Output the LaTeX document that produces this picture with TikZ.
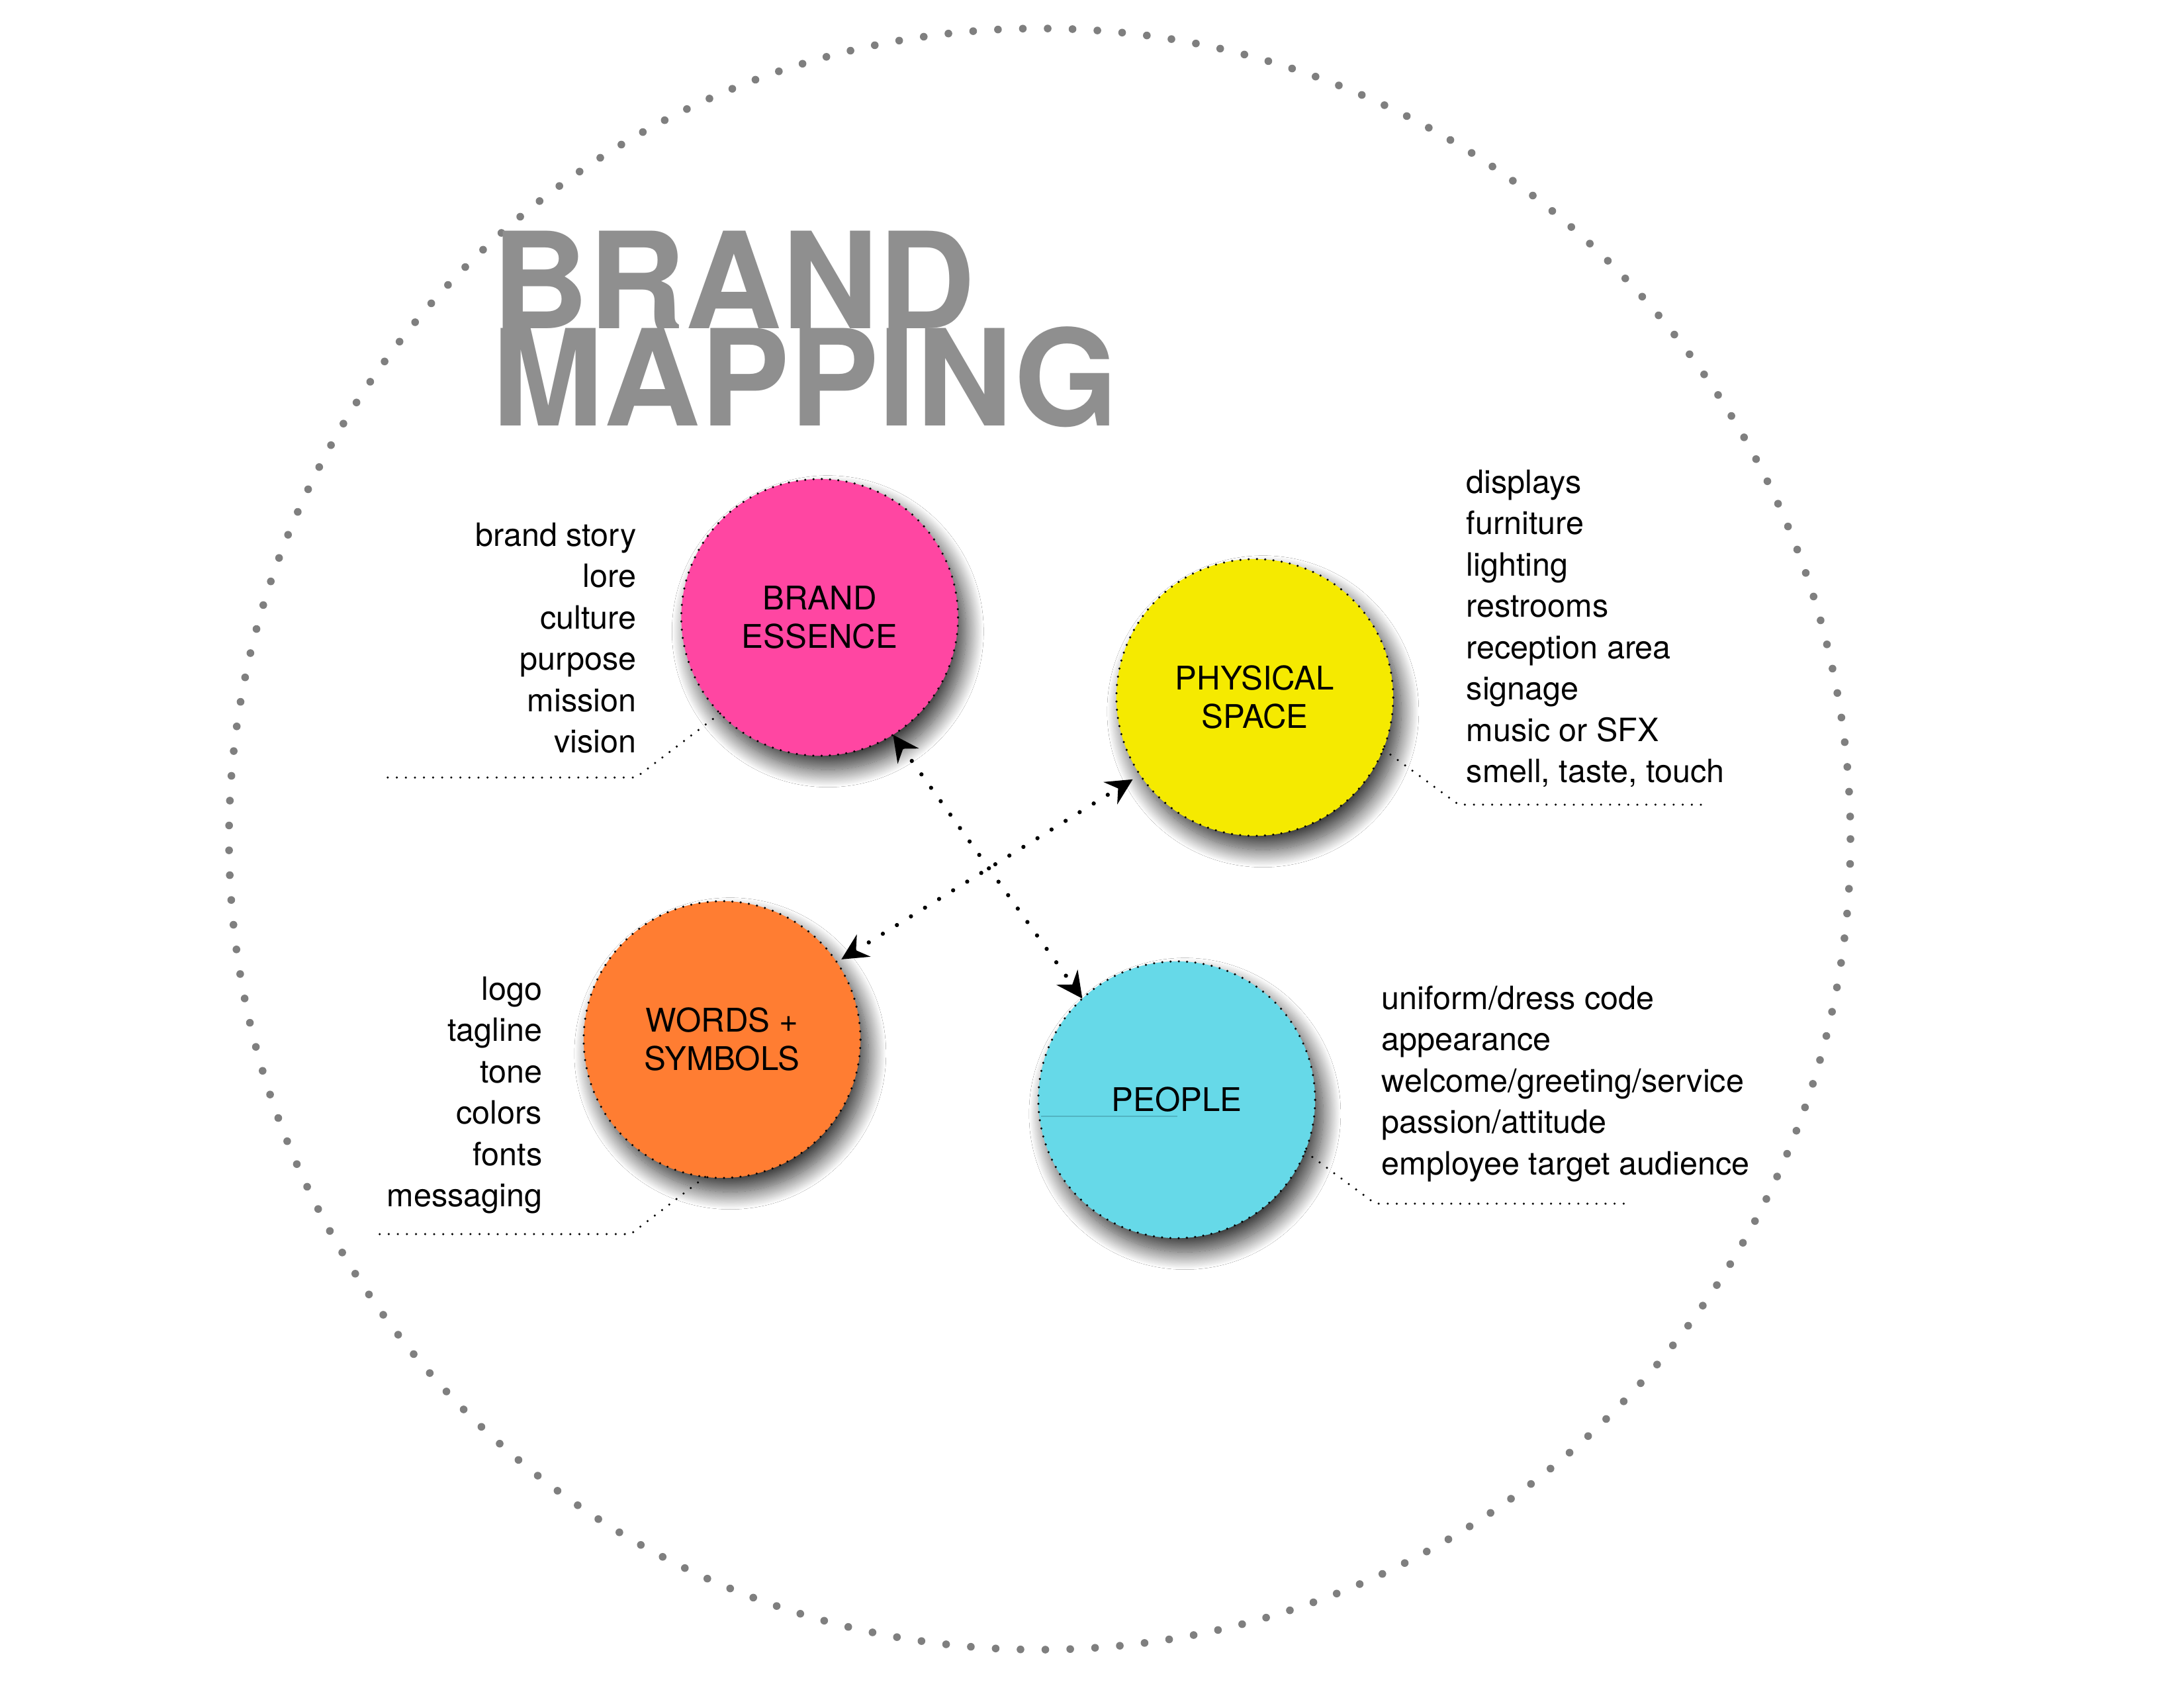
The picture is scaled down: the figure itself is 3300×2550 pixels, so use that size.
\documentclass[tikz,border=0pt]{standalone}
\usepackage{fontspec}
\setmainfont{TeX Gyre Heros}
\usetikzlibrary{arrows.meta,shadows.blur}
\definecolor{pinkc}{HTML}{FF46A2}
\definecolor{yellowc}{HTML}{F5EA00}
\definecolor{orangec}{HTML}{FF7D32}
\definecolor{cyanc}{HTML}{66D9E8}
\definecolor{titlegray}{HTML}{8F8F8F}
\definecolor{ringgray}{HTML}{7F7F7F}
\definecolor{faintline}{HTML}{52B4C2}
\begin{document}
\begin{tikzpicture}[x=0.01cm,y=-0.01cm,
  myhead/.tip={Stealth[length=11.2pt,width=11.1pt,inset=3.8pt]},
  ring/.style={draw=ringgray, line width=3.3pt, line cap=round, dash pattern=on 0pt off 10.683pt},
  bubble/.style={circle, minimum size=4.18cm, inner sep=0pt, outer sep=0pt, draw=black, line width=1pt, line cap=round, dash pattern=on 0pt off 3.558pt, align=center, font=\fontsize{14pt}{16.5pt}\selectfont, blur shadow={shadow xshift=3.5pt, shadow yshift=-6pt, shadow blur radius=7.5pt, shadow blur steps=30, shadow opacity=80}},
  conn/.style={line width=1.8pt, line cap=round, dash pattern=on 0pt off 7.1pt, myhead-myhead},
  leader/.style={line width=1pt, line cap=round, dash pattern=on 0pt off 3.9pt},
  title/.style={anchor=base west, inner sep=0pt, text=titlegray, font=\fontsize{57.5pt}{57.5pt}\selectfont\bfseries},
  listtext/.style={inner sep=0pt, font=\fontsize{13.8pt}{17.78pt}\selectfont}
]
\path[fill=white] (0,0) rectangle (3300,2550);
\useasboundingbox (0,0) rectangle (3300,2550);

% outer dotted ring
\draw[ring] (1571,1268) circle[radius=1225];

% title
\node[title] (t1) at (743,496) {BRAND};
\node[title] (t2) at (743,643) {MAPPING};

% bubbles
\node[bubble, fill=pinkc] (be) at (1238.5,933) {BRAND\\ESSENCE};
\node[bubble, fill=yellowc] (ps) at (1896,1054) {PHYSICAL\\SPACE};
\node[bubble, fill=orangec] (ws) at (1091,1571) {WORDS +\\SYMBOLS};
\node[bubble, fill=cyanc] (pp) at (1778,1662) {PEOPLE};
\draw[draw=faintline, line width=0.4pt] (1573,1687) -- (1779,1687);

% lists
\node[listtext, anchor=base east] (bel) at (962,825)
  {\begin{tabular}[t]{@{}r@{}}brand story\\lore\\culture\\purpose\\mission\\vision\end{tabular}};
\node[listtext, anchor=base west] (psl) at (2215,745)
  {\begin{tabular}[t]{@{}l@{}}displays\\furniture\\lighting\\restrooms\\reception area\\signage\\music or SFX\\smell, taste, touch\end{tabular}};
\node[listtext, anchor=base east] (wsl) at (820,1511)
  {\begin{tabular}[t]{@{}r@{}}logo\\tagline\\tone\\colors\\fonts\\messaging\end{tabular}};
\node[listtext, anchor=base west] (ppl) at (2087,1525)
  {\begin{tabular}[t]{@{}l@{}}uniform/dress code\\appearance\\welcome/greeting/service\\passion/attitude\\employee target audience\end{tabular}};

% leader lines
\coordinate (beb) at (961,1175);
\coordinate (bee) at (582,1175);
\coordinate (psb) at (2204,1216);
\coordinate (pse) at (2580,1216);
\coordinate (wsb) at (953,1865);
\coordinate (wse) at (568,1865);
\coordinate (ppb) at (2078,1819);
\coordinate (ppe) at (2457,1819);
\draw[leader] (be.224.6) -- (beb) -- (bee);
\draw[leader] (ps.-22.4) -- (psb) -- (pse);
\draw[leader] (ws.263) -- (wsb) -- (wse);
\draw[leader] (pp.-22) -- (ppb) -- (ppe);

% connectors
\draw[conn] (be.-58.5) -- (pp.133.4);
\draw[conn, shorten <=2.3pt, shorten >=3.7pt] (ws.34.5) -- (ps.214.5);
\end{tikzpicture}
\end{document}
